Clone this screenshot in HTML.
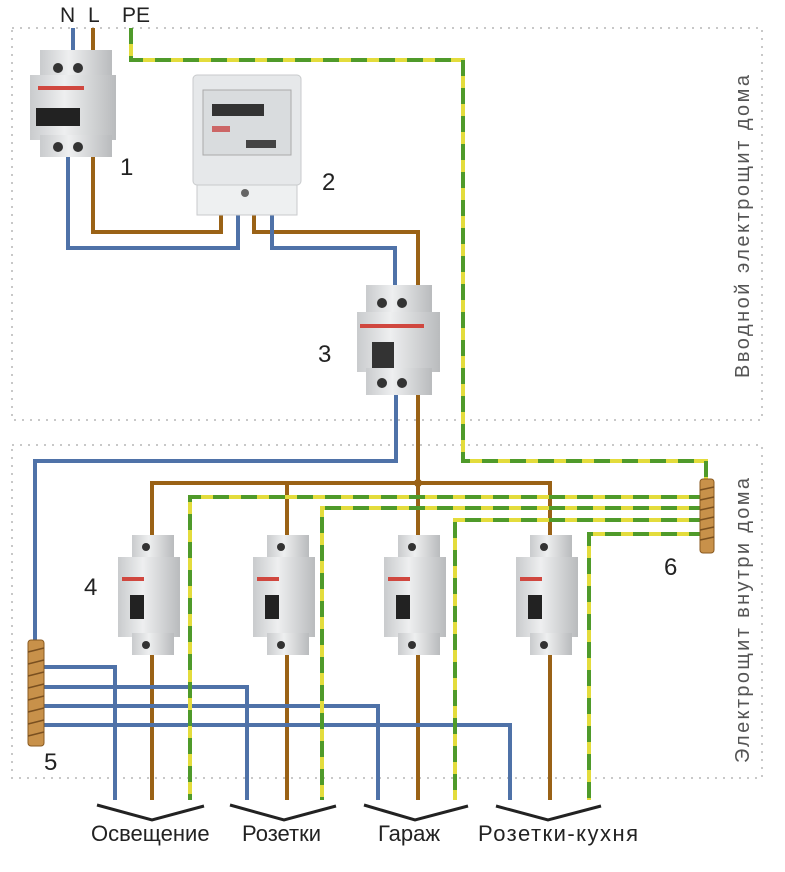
<!DOCTYPE html>
<html><head><meta charset="utf-8"><style>
body{margin:0;background:#fff}
svg{display:block}
text{font-family:"Liberation Sans",sans-serif}
</style></head><body>
<svg width="785" height="872" viewBox="0 0 785 872" xmlns="http://www.w3.org/2000/svg">
<defs>
<linearGradient id="g" x1="0" x2="1"><stop offset="0" stop-color="#c9cbcd"/><stop offset="0.4" stop-color="#eeeff0"/><stop offset="1" stop-color="#b9bbbd"/></linearGradient>
<g id="mcb">
 <rect x="-20" y="0" width="42" height="26" fill="url(#g)"/>
 <rect x="-34" y="22" width="62" height="80" fill="url(#g)"/>
 <rect x="-20" y="98" width="42" height="22" fill="url(#g)"/>
 <circle cx="-6" cy="12" r="4" fill="#333"/>
 <circle cx="-6" cy="110" r="4" fill="#333"/>
 <rect x="-30" y="42" width="22" height="4" fill="#d0473f"/>
 <rect x="-22" y="60" width="14" height="24" fill="#222"/>
</g>
</defs>
<g fill="none" stroke="#c8c8c8" stroke-width="2" stroke-dasharray="2 6">
 <rect x="12" y="28" width="750" height="392"/>
 <rect x="12" y="445" width="750" height="333"/>
</g>
<g fill="none" stroke-width="4" stroke-linejoin="miter">
 <polyline stroke="#4f72a8" points="73,28 73,60"/>
 <polyline stroke="#9a6216" points="93,28 93,60"/>
 <polyline stroke="#4f72a8" points="68,150 68,248 238,248 238,215"/>
 <polyline stroke="#9a6216" points="93,150 93,232 221,232 221,215"/>
 <polyline stroke="#9a6216" points="254,215 254,232 418,232 418,290"/>
 <polyline stroke="#4f72a8" points="272,215 272,248 395,248 395,290"/>
 <polyline stroke="#4f72a8" points="396,392 396,461 35,461 35,645"/>
 <polyline stroke="#9a6216" points="418,392 418,483"/>
 <polyline stroke="#9a6216" points="152,540 152,483 550,483 550,540"/>
 <line stroke="#9a6216" x1="287" y1="483" x2="287" y2="540"/>
 <line stroke="#9a6216" x1="418" y1="483" x2="418" y2="540"/>
 <g stroke="#9a6216">
  <line x1="152" y1="650" x2="152" y2="800"/><line x1="287" y1="650" x2="287" y2="800"/>
  <line x1="418" y1="650" x2="418" y2="800"/><line x1="550" y1="650" x2="550" y2="800"/>
 </g>
 <g stroke="#4f72a8">
  <polyline points="40,667 115,667 115,800"/>
  <polyline points="40,687 247,687 247,800"/>
  <polyline points="40,706 378,706 378,800"/>
  <polyline points="40,725 510,725 510,800"/>
 </g>
</g>
<g fill="none" stroke-width="4">
 <g stroke="#e3dc3c">
  <polyline points="131,28 131,60 463,60 463,461 706,461 706,482"/>
  <polyline points="705,497 190,497 190,800"/>
  <polyline points="705,508 322,508 322,800"/>
  <polyline points="705,520 455,520 455,800"/>
  <polyline points="705,534 589,534 589,800"/>
 </g>
 <g stroke="#4f9a2a" stroke-dasharray="16 12">
  <polyline points="131,28 131,60 463,60 463,461 706,461 706,482"/>
  <polyline points="705,497 190,497 190,800"/>
  <polyline points="705,508 322,508 322,800"/>
  <polyline points="705,520 455,520 455,800"/>
  <polyline points="705,534 589,534 589,800"/>
 </g>
</g>
<circle cx="418" cy="483" r="4" fill="#9a6216"/>
<rect x="28" y="640" width="16" height="106" rx="3" fill="#c8914a" stroke="#8a5a20"/>
<g stroke="#7a5020" stroke-width="1.5">
 <line x1="28" y1="652" x2="44" y2="648"/><line x1="28" y1="664" x2="44" y2="660"/><line x1="28" y1="676" x2="44" y2="672"/><line x1="28" y1="688" x2="44" y2="684"/><line x1="28" y1="700" x2="44" y2="696"/><line x1="28" y1="712" x2="44" y2="708"/><line x1="28" y1="724" x2="44" y2="720"/><line x1="28" y1="736" x2="44" y2="732"/>
</g>
<rect x="700" y="479" width="14" height="74" rx="3" fill="#c8914a" stroke="#8a5a20"/>
<g stroke="#7a5020" stroke-width="1.5">
 <line x1="700" y1="490" x2="714" y2="487"/><line x1="700" y1="500" x2="714" y2="497"/><line x1="700" y1="510" x2="714" y2="507"/><line x1="700" y1="520" x2="714" y2="517"/><line x1="700" y1="530" x2="714" y2="527"/><line x1="700" y1="540" x2="714" y2="537"/>
</g>
<g>
 <rect x="40" y="50" width="72" height="28" fill="url(#g)"/>
 <rect x="30" y="75" width="86" height="65" fill="url(#g)"/>
 <rect x="40" y="135" width="72" height="22" fill="url(#g)"/>
 <circle cx="58" cy="68" r="5" fill="#333"/><circle cx="78" cy="68" r="5" fill="#333"/>
 <circle cx="58" cy="147" r="5" fill="#333"/><circle cx="78" cy="147" r="5" fill="#333"/>
 <rect x="38" y="86" width="46" height="4" fill="#d0473f"/>
 <rect x="36" y="108" width="44" height="18" fill="#222"/>
</g>
<g>
 <rect x="193" y="75" width="108" height="110" rx="4" fill="#e6e8ea" stroke="#c8cacc"/>
 <rect x="203" y="90" width="88" height="65" fill="#d9dcde" stroke="#aaa"/>
 <rect x="212" y="104" width="52" height="12" fill="#333"/>
 <rect x="212" y="126" width="18" height="6" fill="#c66"/>
 <rect x="246" y="140" width="30" height="8" fill="#444"/>
 <rect x="197" y="185" width="100" height="30" fill="#eef0f1" stroke="#c8cacc"/>
 <circle cx="245" cy="193" r="4" fill="#666"/>
</g>
<g>
 <rect x="366" y="285" width="66" height="30" fill="url(#g)"/>
 <rect x="357" y="312" width="83" height="60" fill="url(#g)"/>
 <rect x="366" y="368" width="66" height="27" fill="url(#g)"/>
 <circle cx="382" cy="303" r="5" fill="#333"/><circle cx="402" cy="303" r="5" fill="#333"/>
 <circle cx="382" cy="383" r="5" fill="#333"/><circle cx="402" cy="383" r="5" fill="#333"/>
 <rect x="360" y="324" width="64" height="4" fill="#d0473f"/>
 <rect x="372" y="342" width="22" height="26" fill="#333"/>
</g>
<use href="#mcb" x="152" y="535"/>
<use href="#mcb" x="287" y="535"/>
<use href="#mcb" x="418" y="535"/>
<use href="#mcb" x="550" y="535"/>
<g fill="none" stroke="#222" stroke-width="3">
 <polyline points="97,805 152,820 204,806"/>
 <polyline points="230,805 284,820 336,806"/>
 <polyline points="364,805 415,820 468,806"/>
 <polyline points="496,806 548,820 601,806"/>
</g>
<g font-size="22" fill="#222">
 <text x="91" y="841">Освещение</text>
 <text x="242" y="841">Розетки</text>
 <text x="378" y="841">Гараж</text>
 <text x="478" y="841" textLength="160">Розетки-кухня</text>
 <text x="60" y="22" font-size="21">N</text><text x="88" y="22" font-size="21">L</text><text x="122" y="22" font-size="21">PE</text>
 <text x="120" y="175" font-size="24">1</text>
 <text x="322" y="190" font-size="24">2</text>
 <text x="318" y="362" font-size="24">3</text>
 <text x="84" y="595" font-size="24">4</text>
 <text x="44" y="770" font-size="24">5</text>
 <text x="664" y="575" font-size="24">6</text>
</g>
<g font-size="20" fill="#555">
 <text transform="translate(749,378) rotate(-90)" textLength="303">Вводной электрощит дома</text>
 <text transform="translate(749,763) rotate(-90)" textLength="285">Электрощит внутри дома</text>
</g>
</svg>
</body></html>
